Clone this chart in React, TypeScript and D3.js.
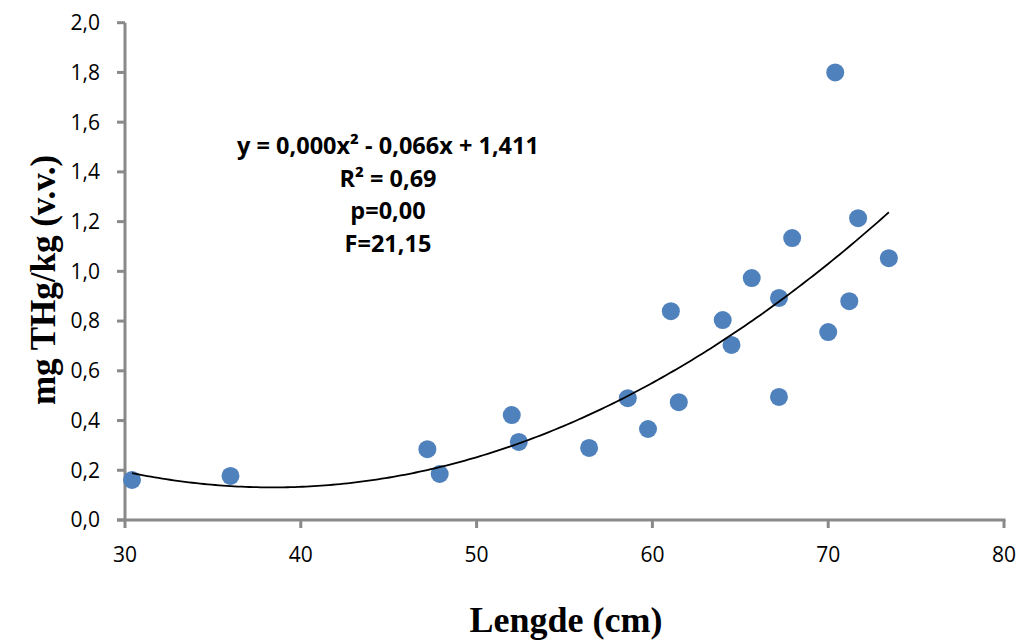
import React from "react";
import * as d3 from "d3";

const lengthCm = [30.4, 36.0, 47.2, 47.9, 52.0, 52.4, 56.4, 58.6, 59.75, 61.05, 61.5, 64.0, 64.5, 65.65, 67.2, 67.2, 67.95, 70.0, 70.4, 71.2, 71.7, 73.45];
const mgTHg = [0.161, 0.177, 0.285, 0.185, 0.422, 0.314, 0.29, 0.49, 0.366, 0.84, 0.474, 0.804, 0.704, 0.973, 0.893, 0.495, 1.134, 0.756, 1.80, 0.88, 1.214, 1.053];
const xTicks = [30, 40, 50, 60, 70, 80];
const yTicks = [0, 0.2, 0.4, 0.6, 0.8, 1.0, 1.2, 1.4, 1.6, 1.8, 2.0];
const trendCoef = [0.0009, -0.0691, 1.4575]; // a, b, c (curve as drawn in the picture)
const annotationLines = ["y = 0,000x² - 0,066x + 1,411", "R² = 0,69", "p=0,00", "F=21,15"];
const xTitle = "Lengde (cm)";
const yTitle = "mg THg/kg (v.v.)";

export default function App() {
  const W = 1023, H = 641;
  const x = d3.scaleLinear().domain([30, 80]).range([125, 1004]);
  const y = d3.scaleLinear().domain([0, 2]).range([520, 22.7]);
  const axisColor = "#898989";
  const fmt = (v: number) => v.toFixed(1).replace(".", ",");

  const xMin = d3.min(lengthCm)!;
  const xMax = d3.max(lengthCm)!;
  const trendPts = d3.range(0, 201).map((i) => {
    const xv = xMin + ((xMax - xMin) * i) / 200;
    const yv = trendCoef[0] * xv * xv + trendCoef[1] * xv + trendCoef[2];
    return [xv, yv] as [number, number];
  });
  const line = d3.line<[number, number]>().x((d) => x(d[0])).y((d) => y(d[1])).curve(d3.curveLinear);

  const tickFont = "'Open Sans', sans-serif";
  const serif = "'Liberation Serif', 'Times New Roman', serif";
  return (
    <svg width={W} height={H} style={{ position: "absolute", left: 0, top: 0, background: "#fff" }}>
      {/* y axis */}
      <line x1={x(30)} x2={x(30)} y1={y(2)} y2={y(0) + 1.5} stroke={axisColor} strokeWidth={3} />
      {yTicks.map((t) => (
        <g key={"y" + t}>
          <line x1={x(30) - 8} x2={x(30)} y1={y(t)} y2={y(t)} stroke={axisColor} strokeWidth={3} />
          <text x={100} y={y(t)} dy="0.35em" textAnchor="end" fontFamily={tickFont} fontSize={21} fill="#000">
            {fmt(t)}
          </text>
        </g>
      ))}
      {/* x axis */}
      <line x1={x(30) - 8} x2={x(80) + 1.5} y1={y(0)} y2={y(0)} stroke={axisColor} strokeWidth={3} />
      {xTicks.map((t) => (
        <g key={"x" + t}>
          <line x1={x(t)} x2={x(t)} y1={y(0)} y2={y(0) + 8} stroke={axisColor} strokeWidth={3} />
          <text x={x(t)} y={555} dy="0.35em" textAnchor="middle" fontFamily={tickFont} fontSize={21} fill="#000">
            {t}
          </text>
        </g>
      ))}
      {/* points */}
      {lengthCm.map((xv, i) => (
        <circle key={"p" + i} cx={x(xv)} cy={y(mgTHg[i])} r={9} fill="#4F81BD" />
      ))}
      {/* trend line */}
      <path d={line(trendPts) || ""} fill="none" stroke="#000" strokeWidth={1.8} />
      {/* annotation */}
      {annotationLines.map((s, i) => (
        <text key={"a" + i} x={388} y={146 + i * 32.5} dy="0.35em" textAnchor="middle" fontFamily={tickFont} fontWeight="bold" fontSize={23.5} fill="#000">
          {s}
        </text>
      ))}
      {/* axis titles */}
      <text x={566} y={632} textAnchor="middle" fontFamily={serif} fontWeight="bold" fontSize={36} fill="#000">
        {xTitle}
      </text>
      <text transform={`translate(55,280) rotate(-90)`} textAnchor="middle" fontFamily={serif} fontWeight="bold" fontSize={35} fill="#000">
        {yTitle}
      </text>
    </svg>
  );
}
